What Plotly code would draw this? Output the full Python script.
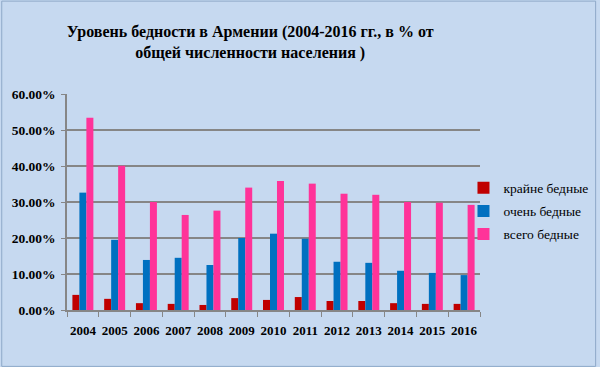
import plotly.graph_objects as go

years = ["2004", "2005", "2006", "2007", "2008", "2009", "2010", "2011", "2012", "2013", "2014", "2015", "2016"]
extreme_poor = [4.2, 3.1, 1.9, 1.7, 1.4, 3.3, 2.8, 3.6, 2.5, 2.5, 1.9, 1.7, 1.7]
very_poor = [32.6, 19.5, 13.9, 14.5, 12.5, 20.0, 21.2, 19.8, 13.4, 13.1, 10.9, 10.3, 9.7]
total_poor = [53.4, 40.1, 30.0, 26.4, 27.6, 34.0, 35.8, 35.1, 32.3, 32.0, 30.0, 29.8, 29.2]
series_names = ["крайне бедные", "очень бедные", "всего бедные"]
y_ticks = [0, 10, 20, 30, 40, 50, 60]
y_tick_labels = ["%.2f%%" % v for v in y_ticks]

colors = ["#C00000", "#0070C0", "#FF3399"]
serif = "Liberation Serif"

fig = go.Figure()
for i, (name, vals, c) in enumerate(zip(series_names, [extreme_poor, very_poor, total_poor], colors)):
    fig.add_trace(go.Bar(x=years, y=vals, name=name, legendgroup="g%d" % i,
                         marker=dict(color=c, line=dict(width=0))))

fig.update_layout(
    width=600, height=367,
    barmode="group", bargap=0.34, bargroupgap=0,
    paper_bgcolor="#C6D9F0", plot_bgcolor="#C6D9F0",
    margin=dict(l=67, r=120, t=94, b=57, autoexpand=False),
    font=dict(family=serif),
    title=dict(
        text="<b>Уровень бедности в Армении (2004-2016 гг., в % от<br>общей численности населения )</b>",
        x=0.417, xanchor="center", y=0.9, yanchor="middle",
        font=dict(family=serif, size=16, color="black"),
    ),
    legend=dict(
        x=0.96, y=0.458, xanchor="left", yanchor="middle",
        bgcolor="rgba(0,0,0,0)", itemwidth=30, traceorder="grouped", tracegroupgap=2.5,
        font=dict(family=serif, size=13.5, color="black"),
    ),
    showlegend=True,
)
fig.update_xaxes(
    type="category", showline=True, linecolor="#868686", linewidth=1.5,
    ticks="outside", tickson="boundaries", ticklen=5, tickcolor="#868686",
    tickfont=dict(family=serif, size=13, color="black"), tickangle=0,
    tickprefix="<b>", ticksuffix="</b>", ticklabelstandoff=8,
)
fig.update_yaxes(
    range=[0, 60], tickvals=y_ticks, ticktext=["<b>%s</b>" % t for t in y_tick_labels],
    showgrid=True, gridcolor="#868686", gridwidth=1.5,
    showline=True, linecolor="#868686", linewidth=1.5,
    ticks="outside", ticklen=4, tickcolor="#868686",
    tickfont=dict(family=serif, size=13.5, color="black"), ticklabelstandoff=3,
    zeroline=False,
)
fig.add_shape(type="rect", xref="paper", yref="paper", x0=-0.158, x1=1.28, y0=-0.261, y1=1.43,
              line=dict(color="#8EA9C8", width=1), layer="below")
fig.write_html("out.html", config={"displayModeBar": False},
               post_script="document.body.style.margin='0';document.body.style.padding='0';")
